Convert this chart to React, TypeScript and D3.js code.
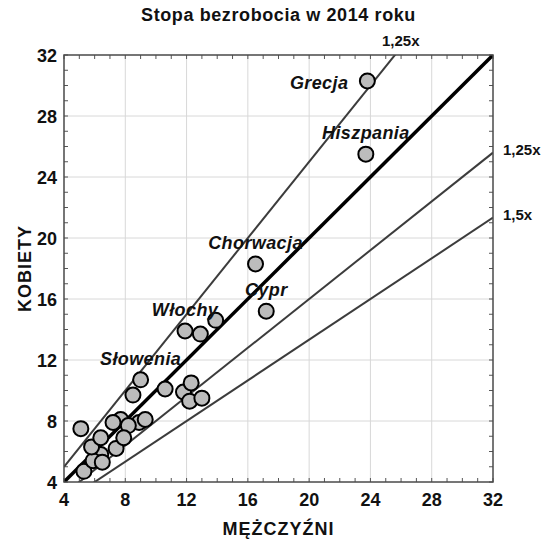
import React, { useEffect, useRef } from 'react';
import * as d3 from 'd3';

// unemployment rate 2014, % (men on x, women on y)
const menRates = [6.4, 5.3, 5.9, 5.8, 7.7, 7.4, 6.5, 6.4, 7.2, 8.9, 8.2, 9.3, 7.9, 5.1,
  11.8, 12.2, 12.3, 13.0, 8.5, 10.6, 9.0, 12.9, 11.9, 13.9, 17.2, 16.5, 23.7, 23.8];
const womenRates = [5.8, 4.7, 5.4, 6.3, 8.1, 6.2, 5.3, 6.9, 7.9, 7.9, 7.7, 8.1, 6.9, 7.5,
  9.9, 9.3, 10.5, 9.5, 9.7, 10.1, 10.7, 13.7, 13.9, 14.6, 15.2, 18.3, 25.5, 30.3];

const labelNames = ['Słowenia', 'Włochy', 'Cypr', 'Chorwacja', 'Hiszpania', 'Grecja'];
const labelPoints = [20, 22, 24, 25, 26, 27];

const ratios = [1.25, 1, 1 / 1.25, 1 / 1.5];
const ratioLabels = ['1,25x', '', '1,25x', '1,5x'];

const axisTicks = [4, 8, 12, 16, 20, 24, 28, 32];

const W = 541;
const H = 540;
const FONT = '"Liberation Sans", Arial, sans-serif';

export default function App() {
  const ref = useRef<SVGSVGElement>(null);

  useEffect(() => {
    if (!ref.current) return;
    const svg = d3.select(ref.current);
    svg.selectAll('*').remove();

    const left = 64, right = 493, top = 55, bottom = 482;
    const x = d3.scaleLinear().domain([4, 32]).range([left, right]);
    const y = d3.scaleLinear().domain([4, 32]).range([bottom, top]);

    svg.append('rect').attr('width', W).attr('height', H).attr('fill', '#fff');

    svg.append('defs').append('clipPath').attr('id', 'plot')
      .append('rect')
      .attr('x', left).attr('y', top)
      .attr('width', right - left).attr('height', bottom - top);

    // grid
    const grid = svg.append('g').attr('stroke', '#d8d8d8').attr('stroke-width', 1);
    axisTicks.slice(1, -1).forEach(t => {
      grid.append('line').attr('x1', x(t)).attr('x2', x(t)).attr('y1', top).attr('y2', bottom);
      grid.append('line').attr('y1', y(t)).attr('y2', y(t)).attr('x1', left).attr('x2', right);
    });

    // minor ticks, all four sides, pointing inward
    const minor = d3.range(4, 33);
    const ticks = svg.append('g').attr('stroke', '#555').attr('stroke-width', 1);
    minor.forEach(t => {
      ticks.append('line').attr('x1', x(t)).attr('x2', x(t)).attr('y1', bottom).attr('y2', bottom - 4);
      ticks.append('line').attr('x1', x(t)).attr('x2', x(t)).attr('y1', top).attr('y2', top + 4);
      ticks.append('line').attr('y1', y(t)).attr('y2', y(t)).attr('x1', left).attr('x2', left + 4);
      ticks.append('line').attr('y1', y(t)).attr('y2', y(t)).attr('x1', right).attr('x2', right - 4);
    });

    // ratio lines
    const line = d3.line<number>().x(d => x(d[0])).y(d => y(d[1]));
    const lines = svg.append('g').attr('clip-path', 'url(#plot)').attr('fill', 'none');
    ratios.forEach(r => {
      lines.append('path')
        .attr('d', line([[4, 4 * r], [32, 32 * r]] as any))
        .attr('stroke', r === 1 ? '#000' : '#3c3c3c')
        .attr('stroke-width', r === 1 ? 3.5 : 2);
    });

    // frame
    svg.append('rect')
      .attr('x', left).attr('y', top)
      .attr('width', right - left).attr('height', bottom - top)
      .attr('fill', 'none').attr('stroke', '#4a4a4a').attr('stroke-width', 1.5);

    // points
    svg.append('g').selectAll('circle')
      .data(menRates)
      .join('circle')
      .attr('cx', d => x(d))
      .attr('cy', (_, i) => y(womenRates[i]))
      .attr('r', 7.5)
      .attr('fill', '#bcbcbc')
      .attr('stroke', '#000')
      .attr('stroke-width', 2);

    // country labels
    const lab = svg.append('g')
      .attr('font-family', FONT).attr('font-weight', 'bold').attr('font-style', 'italic')
      .attr('font-size', 18).attr('letter-spacing', 0.4).attr('fill', '#111');
    labelNames.forEach((name, k) => {
      const i = labelPoints[k];
      const isGreece = name === 'Grecja';
      lab.append('text')
        .attr('x', x(menRates[i]) + (isGreece ? -19 : 0))
        .attr('y', y(womenRates[i]) + (isGreece ? 8 : -15))
        .attr('text-anchor', isGreece ? 'end' : 'middle')
        .text(name);
    });

    // ratio labels
    const rl = svg.append('g')
      .attr('font-family', FONT).attr('font-weight', 'bold')
      .attr('font-size', 15).attr('fill', '#111');
    ratios.forEach((r, i) => {
      if (!ratioLabels[i]) return;
      if (r * 32 > 32) {
        rl.append('text').attr('x', x(32 / r) - 13).attr('y', top - 9).text(ratioLabels[i]);
      } else {
        rl.append('text').attr('x', right + 10).attr('y', y(32 * r) + 2).text(ratioLabels[i]);
      }
    });

    // tick labels
    const tl = svg.append('g')
      .attr('font-family', FONT).attr('font-weight', 'bold')
      .attr('font-size', 18).attr('fill', '#111');
    axisTicks.forEach(t => {
      tl.append('text').attr('x', x(t)).attr('y', bottom + 24)
        .attr('text-anchor', 'middle').text(t);
      tl.append('text').attr('x', left - 7).attr('y', y(t) + 6.5)
        .attr('text-anchor', 'end').text(t);
    });

    // titles
    svg.append('text')
      .attr('x', (left + right) / 2).attr('y', 21)
      .attr('text-anchor', 'middle')
      .attr('font-family', FONT).attr('font-weight', 'bold').attr('font-size', 18)
      .attr('letter-spacing', 0.6).attr('fill', '#111')
      .text('Stopa bezrobocia w 2014 roku');

    svg.append('text')
      .attr('x', (left + right) / 2).attr('y', 535)
      .attr('text-anchor', 'middle')
      .attr('font-family', FONT).attr('font-weight', 'bold').attr('font-size', 18)
      .attr('letter-spacing', 1).attr('fill', '#111')
      .text('MĘŻCZYŹNI');

    svg.append('text')
      .attr('transform', `translate(31,${(top + bottom) / 2}) rotate(-90)`)
      .attr('text-anchor', 'middle')
      .attr('font-family', FONT).attr('font-weight', 'bold').attr('font-size', 18)
      .attr('letter-spacing', 1).attr('fill', '#111')
      .text('KOBIETY');
  }, []);

  return (
    <svg
      ref={ref}
      width={W}
      height={H}
      style={{ position: 'absolute', left: 0, top: 0, display: 'block' }}
    />
  );
}
